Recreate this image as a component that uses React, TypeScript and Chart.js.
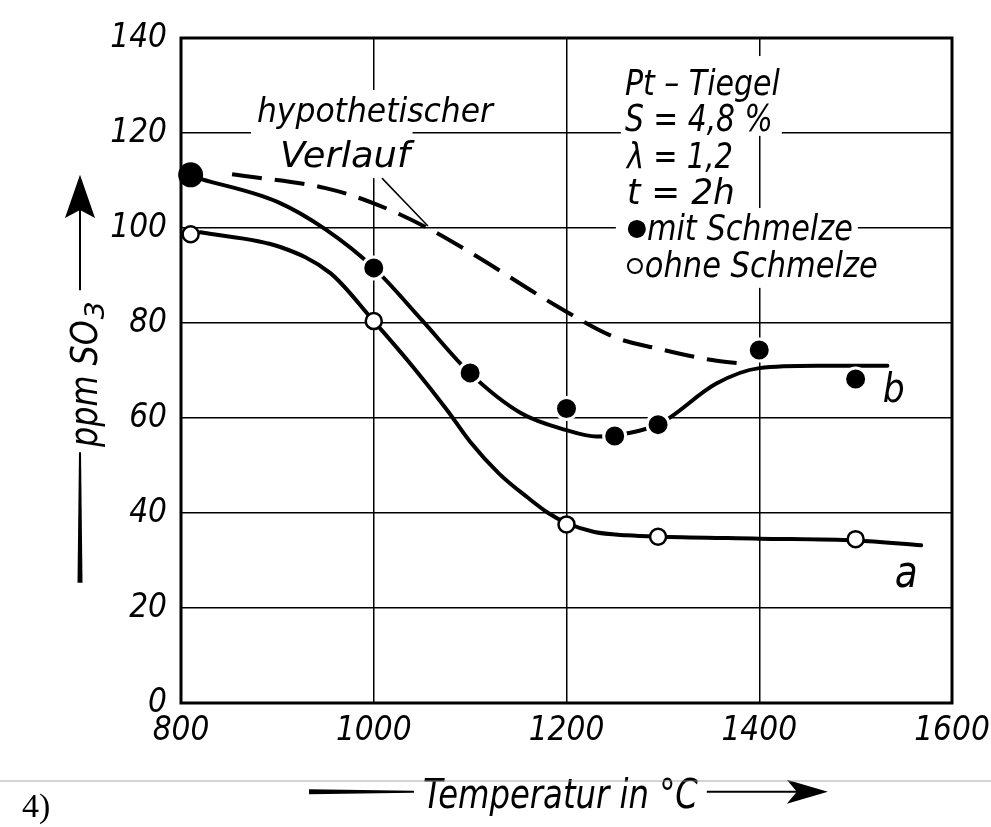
import React, { useEffect, useRef } from 'react';
import { Chart, registerables } from 'chart.js';

Chart.register(...registerables);

// ---------- data ----------
const xTickValues = [800, 1000, 1200, 1400, 1600];
const yTickValues = [0, 20, 40, 60, 80, 100, 120, 140];

// measured points "mit Schmelze" (filled)
const mitTemps = [810, 1000, 1100, 1200, 1250, 1295, 1400, 1500];
const mitValues = [111.2, 91.6, 69.5, 62, 56.2, 58.6, 74.3, 68.2];

// measured points "ohne Schmelze" (open)
const ohneTemps = [810, 1000, 1200, 1295, 1500];
const ohneValues = [98.7, 80.4, 37.6, 35, 34.5];

// drawn curve b (mit Schmelze)
const curveBTemps = [821, 900, 950, 1000, 1050, 1100, 1153, 1199, 1231, 1250, 1295, 1308, 1355, 1400, 1460, 1533];
const curveBValues = [110.3, 105.5, 99.7, 91.6, 80.6, 69.4, 61, 57.5, 56.1, 56.3, 58.6, 60.2, 67.2, 70.5, 71, 71];

// drawn curve a (ohne Schmelze)
const curveATemps = [820, 903, 955, 1000, 1041, 1076, 1100, 1130, 1160, 1181, 1200, 1229, 1263, 1300, 1400, 1500, 1568];
const curveAValues = [99.1, 96, 90.5, 80.4, 70.7, 61.7, 55, 48.3, 43.2, 40, 37.9, 36, 35.3, 35, 34.6, 34.2, 33.2];

// hypothetischer Verlauf (dashed)
const hypoTemps = [853, 950, 1000, 1054, 1103, 1188, 1250, 1295, 1351, 1390];
const hypoValues = [111.3, 108.4, 105.2, 100.2, 94.5, 83.8, 77, 74.6, 72.2, 71.3];

// ---------- text ----------
const FAMILY = "'Liberation Sans Narrow', 'DejaVu Sans Condensed', 'Roboto Condensed', 'Liberation Sans', sans-serif";

const notes = [
  { text: 'hypothetischer', x0: 878.8, x1: 1123.7, y: 122.3, size: 34 },
  { text: 'Verlauf', x0: 902.7, x1: 1037.6, y: 112.8, size: 36 },
  { text: 'Pt – Tiegel', x0: 1260.6, x1: 1421.4, y: 128.0, size: 36 },
  { text: 'S = 4,8 %', x0: 1260.6, x1: 1414.1, y: 120.4, size: 38 },
  { text: 'λ = 1,2', x0: 1262.7, x1: 1372.6, y: 112.6, size: 36 },
  { text: 't = 2h', x0: 1262.7, x1: 1374.7, y: 105.1, size: 35 },
  { text: 'mit Schmelze', x0: 1283.4, x1: 1497.1, y: 97.5, size: 36 },
  { text: 'ohne Schmelze', x0: 1281.3, x1: 1523.0, y: 89.7, size: 36 },
  { text: 'a', x0: 1540.7, x1: 1564.5, y: 24.4, size: 44 },
  { text: 'b', x0: 1528.2, x1: 1551.0, y: 63.4, size: 40 },
];

// white areas behind lettering (grid interrupted)
const erasers = [
  { x0: 872.6, x1: 1127.9, y0: 129.05, y1: 121.05 },
  { x0: 872.6, x1: 1040.2, y0: 121.05, y1: 110.5 },
  { x0: 1256.4, x1: 1423.4, y0: 136.2, y1: 119.4 },
  { x0: 1251.2, x1: 1502.3, y0: 104.2, y1: 96.2 },
  { x0: 1251.2, x1: 1530.3, y0: 96.2, y1: 87.4 },
];

const xTitle = 'Temperatur in °C';
const yTitleMain = 'ppm SO';
const yTitleSub = '3';

function fitText(ctx: CanvasRenderingContext2D, text: string, x: number, baseline: number, width: number, size: number) {
  ctx.font = `italic ${size}px ${FAMILY}`;
  const w = ctx.measureText(text).width || 1;
  ctx.save();
  ctx.translate(x, baseline);
  ctx.scale(width / w, 1);
  ctx.textAlign = 'left';
  ctx.textBaseline = 'alphabetic';
  ctx.fillText(text, 0, 0);
  ctx.restore();
}

const decorPlugin = {
  id: 'decor',
  beforeDatasetsDraw(chart: any) {
    const ctx: CanvasRenderingContext2D = chart.ctx;
    const xs = chart.scales.x;
    const ys = chart.scales.y;
    const px = (v: number) => xs.getPixelForValue(v);
    const py = (v: number) => ys.getPixelForValue(v);
    const ca = chart.chartArea;
    ctx.save();

    // erasers
    ctx.fillStyle = '#fff';
    for (const b of erasers) {
      const x1 = px(b.x0), x2 = px(b.x1), y1 = py(b.y0), y2 = py(b.y1);
      ctx.fillRect(Math.min(x1, x2), Math.min(y1, y2), Math.abs(x2 - x1), Math.abs(y2 - y1));
    }

    // frame
    ctx.strokeStyle = '#000';
    ctx.lineWidth = 3;
    ctx.strokeRect(ca.left, ca.top, ca.right - ca.left, ca.bottom - ca.top);

    // leader line for "Verlauf"
    ctx.lineWidth = 1.5;
    ctx.beginPath();
    ctx.moveTo(px(1008.5), py(110.5));
    ctx.lineTo(px(1056.2), py(100.4));
    ctx.stroke();

    // notes
    ctx.fillStyle = '#000';
    for (const n of notes) {
      fitText(ctx, n.text, px(n.x0), py(n.y), px(n.x1) - px(n.x0), n.size);
    }
    // legend symbols
    ctx.beginPath();
    ctx.arc(px(1273.0), py(99.8), 9, 0, Math.PI * 2);
    ctx.fill();
    ctx.beginPath();
    ctx.lineWidth = 2;
    ctx.arc(px(1271.0), py(92.0), 7, 0, Math.PI * 2);
    ctx.stroke();

    // ----- y axis title with arrow -----
    const ax = px(695.2);
    const hw = px(710.8) - ax;
    ctx.beginPath();
    ctx.moveTo(ax, py(111.2));
    ctx.lineTo(ax + hw, py(102.1));
    ctx.lineTo(ax, py(103.8));
    ctx.lineTo(ax - hw, py(102.1));
    ctx.closePath();
    ctx.fill();
    ctx.lineWidth = 2;
    ctx.beginPath();
    ctx.moveTo(ax, py(104));
    ctx.lineTo(ax, py(86.9));
    ctx.stroke();
    ctx.beginPath();
    ctx.moveTo(ax - 1, py(52.8));
    ctx.lineTo(ax + 1, py(52.8));
    ctx.lineTo(ax + 2.5, py(25.3));
    ctx.lineTo(ax - 2.5, py(25.3));
    ctx.closePath();
    ctx.fill();

    // rotated title
    const bx = px(712.9);
    const yStart = py(53.9);
    const ySO = py(80.6);
    const yEnd = py(84.4);
    ctx.save();
    ctx.translate(bx, yStart);
    ctx.rotate(-Math.PI / 2);
    fitText(ctx, yTitleMain, 0, 0, yStart - ySO, 38);
    fitText(ctx, yTitleSub, yStart - ySO + 1, 7, ySO - yEnd, 26);
    ctx.restore();

    // ----- x axis title with arrows -----
    const ly = py(-18.7);
    ctx.beginPath();
    ctx.moveTo(px(932.8), ly - 2.5);
    ctx.lineTo(px(1041.7), ly - 1);
    ctx.lineTo(px(1041.7), ly + 1);
    ctx.lineTo(px(932.8), ly + 2.5);
    ctx.closePath();
    ctx.fill();
    fitText(ctx, xTitle, px(1051.0), py(-22.1), px(1336.3) - px(1051.0), 41);
    ctx.lineWidth = 2;
    ctx.beginPath();
    ctx.moveTo(px(1345.6), ly);
    ctx.lineTo(px(1440), ly);
    ctx.stroke();
    const ah = py(-18.7) - py(-16.17);
    ctx.beginPath();
    ctx.moveTo(px(1471.2), ly);
    ctx.lineTo(px(1428.6), ly - ah);
    ctx.lineTo(px(1439.0), ly);
    ctx.lineTo(px(1428.6), ly + ah);
    ctx.closePath();
    ctx.fill();

    ctx.restore();
  },
  afterDraw(chart: any) {
    const ctx: CanvasRenderingContext2D = chart.ctx;
    const w = chart.width;
    const h = chart.height;
    ctx.save();
    ctx.strokeStyle = 'rgba(150,150,150,0.55)';
    ctx.lineWidth = 1.5;
    ctx.beginPath();
    ctx.moveTo(0, h - 46);
    ctx.lineTo(w, h - 46);
    ctx.stroke();
    ctx.fillStyle = '#000';
    ctx.font = "34px 'Liberation Serif', 'DejaVu Serif', serif";
    ctx.textAlign = 'left';
    ctx.textBaseline = 'alphabetic';
    ctx.fillText('4)', 22, h - 10);
    ctx.restore();
  },
};

function toPoints(xs: number[], ys: number[]) {
  return xs.map((x, i) => ({ x, y: ys[i] }));
}

export default function App() {
  const canvasRef = useRef<HTMLCanvasElement | null>(null);

  useEffect(() => {
    if (!canvasRef.current) return;
    const tickFont = { family: FAMILY, size: 33, style: 'italic' as const };
    const chart = new Chart(canvasRef.current, {
      type: 'scatter',
      data: {
        datasets: [
          {
            label: 'mit Schmelze',
            data: toPoints(mitTemps, mitValues),
            showLine: false,
            pointRadius: 11,
            pointBackgroundColor: '#000',
            pointBorderColor: mitTemps.map((_, i) => (i === 0 ? '#000' : '#fff')),
            pointBorderWidth: 3,
            clip: false,
          } as any,
          {
            label: 'ohne Schmelze',
            data: toPoints(ohneTemps, ohneValues),
            showLine: false,
            pointRadius: 8,
            pointBackgroundColor: '#fff',
            pointBorderColor: '#000',
            pointBorderWidth: 2.5,
            clip: false,
          } as any,
          {
            label: 'b',
            data: toPoints(curveBTemps, curveBValues),
            showLine: true,
            pointRadius: 0,
            borderColor: '#000',
            borderWidth: 4,
            borderCapStyle: 'round',
            cubicInterpolationMode: 'monotone',
          } as any,
          {
            label: 'a',
            data: toPoints(curveATemps, curveAValues),
            showLine: true,
            pointRadius: 0,
            borderColor: '#000',
            borderWidth: 4,
            borderCapStyle: 'round',
            cubicInterpolationMode: 'monotone',
          } as any,
          {
            label: 'hypothetischer Verlauf',
            data: toPoints(hypoTemps, hypoValues),
            showLine: true,
            pointRadius: 0,
            borderColor: '#000',
            borderWidth: 4,
            borderDash: [30, 13],
            cubicInterpolationMode: 'monotone',
          } as any,
        ],
      },
      options: {
        responsive: false,
        animation: false,
        events: [],
        layout: { padding: { left: 0, top: 38, right: 39, bottom: 0 } },
        plugins: {
          legend: { display: false },
          tooltip: { enabled: false },
        },
        scales: {
          x: {
            type: 'linear',
            min: 800,
            max: 1600,
            afterBuildTicks: (s: any) => {
              s.ticks = xTickValues.map((v) => ({ value: v }));
            },
            afterFit: (s: any) => {
              s.height = 124;
              s.paddingLeft = 0;
              s.paddingRight = 0;
            },
            border: { display: false },
            grid: { color: '#000', lineWidth: 1.5, drawTicks: false },
            ticks: {
              color: '#000',
              font: tickFont,
              padding: 9,
              maxRotation: 0,
              autoSkip: false,
              callback: (v: any) => String(v),
            },
          },
          y: {
            type: 'linear',
            min: 0,
            max: 140,
            afterBuildTicks: (s: any) => {
              s.ticks = yTickValues.map((v) => ({ value: v }));
            },
            afterFit: (s: any) => {
              s.width = 181;
              s.paddingTop = 0;
              s.paddingBottom = 0;
            },
            border: { display: false },
            grid: { color: '#000', lineWidth: 1.5, drawTicks: false },
            ticks: {
              color: '#000',
              font: tickFont,
              padding: 14,
              autoSkip: false,
              callback: (v: any) => String(v),
            },
          },
        },
      } as any,
      plugins: [decorPlugin],
    });
    return () => chart.destroy();
  }, []);

  return (
    <div style={{ position: 'absolute', left: 0, top: 0, width: 991, height: 827, background: '#fff' }}>
      <canvas ref={canvasRef} width={991} height={827} style={{ display: 'block' }} />
    </div>
  );
}
